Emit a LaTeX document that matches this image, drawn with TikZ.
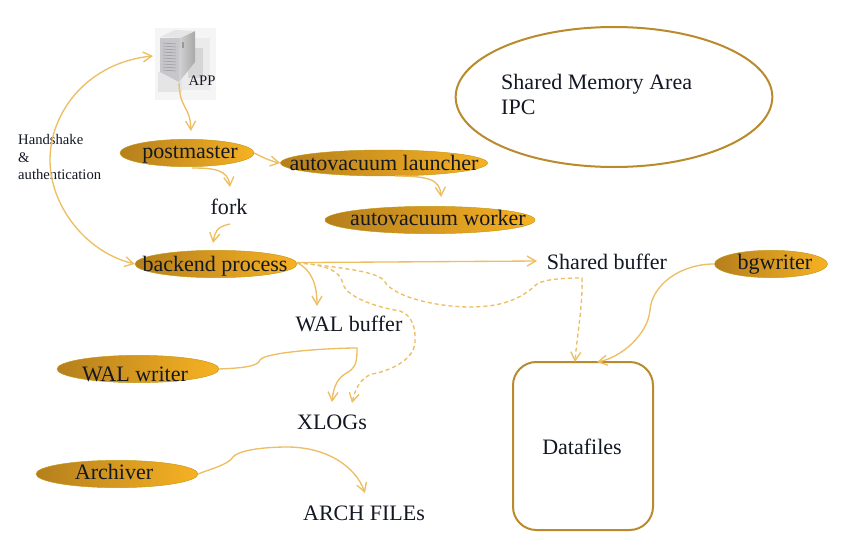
\documentclass[tikz,border=0pt]{standalone}
\usepackage{fontspec}
\setmainfont{Liberation Serif}
\usetikzlibrary{shapes.geometric,arrows.meta}
\definecolor{linkgold}{HTML}{EDBE62}
\definecolor{rimgold}{HTML}{B98B2C}
\definecolor{ovaldark}{HTML}{B57F1C}
\definecolor{ovallight}{HTML}{F7B223}
\definecolor{inktext}{HTML}{141824}
\tikzset{
    procoval/.style n args={3}{ellipse, minimum width=#1, minimum height=8.2mm, inner sep=0pt, draw=ovaldark!80!yellow, thin, left color=ovaldark, right color=ovallight, label={[text=inktext, bigfont, shift={#2}]center:#3}},
    bigfont/.style={font=\fontsize{18.8}{21.3}\selectfont},
    plainlabel/.style={inner sep=0pt, text=inktext, bigfont},
    smalllabel/.style={inner sep=0pt, text=inktext, font=\fontsize{12.5}{15}\selectfont},
    link/.style={draw=linkgold, line width=0.4mm, -{Straight Barb[length=2.6mm,width=3mm]}},
    dashlink/.style={link, dashed, dash pattern=on 1.2mm off 0.9mm}
}
\begin{document}
\begin{tikzpicture}[x=0.3mm, y=-0.3mm]
\useasboundingbox (0,0) rectangle (868,542);
\fill[white] (0,0) rectangle (868,542);

\fill[black!4] (155,28) rectangle (216,100);
\fill[black!8] (176,38) rectangle (210,90);
\fill[black!16] (188,48) rectangle (203,78);
\fill[black!10] (158,72) rectangle (182,92);
\fill[blue!8!black!22] (160,38) -- (180,38) -- (179,82) -- (160,72) -- cycle;
\shade[left color=black!18, right color=black!34] (180,38) -- (195,31) -- (195,62) -- (179,82) -- cycle;
\fill[black!10] (160,37) -- (175,30) -- (195,31) -- (180,38) -- cycle;
\foreach \y in {43,46,...,70}
    \draw[black!42, thin] (163,\y) -- (176,\y+1);
\draw[black!40, line width=0.5mm] (183,42) -- (183,48);
\coordinate (appin) at (153,56);
\coordinate (appout) at (179,83);

\node[smalllabel] (app) at (202,81) {APP};
\node[smalllabel, align=left, anchor=west, text width=2.6cm] (handshake) at (18,157) {Handshake\\\&\\authentication};

\node[procoval={40.2mm}{(3,2)}{postmaster}] (postmaster) at (187,153) {};
\node[procoval={48.6mm}{(-1,2)}{backend process}] (backend) at (216,264) {};
\node[procoval={62.1mm}{(0,0)}{autovacuum launcher}, minimum height=7.8mm] (launcher) at (384,163) {};
\node[procoval={63mm}{(8,-2)}{autovacuum worker}] (worker) at (430,220) {};
\node[procoval={48.6mm}{(-3,5)}{WAL writer}] (walwriter) at (138,369) {};
\node[procoval={48.6mm}{(-3,-2)}{Archiver}] (archiver) at (117,474) {};
\node[procoval={33.9mm}{(4,0)}{bgwriter}] (bgwriter) at (771,264) {};

\node[plainlabel] (fork) at (229,207) {fork};
\node[plainlabel] (walbuffer) at (349,324) {WAL buffer};
\node[plainlabel] (xlogs) at (332,422) {XLOGs};
\node[plainlabel] (archfiles) at (364,513) {ARCH FILEs};
\node[plainlabel] (sharedbuffer) at (607,262) {Shared buffer};

\node[ellipse, draw=rimgold, line width=0.6mm, minimum width=95mm, minimum height=42mm, inner sep=0pt] (shmem) at (614,97) {};
\node[plainlabel, anchor=west, align=left] (shmemtext) at (501,94) {Shared Memory Area\\IPC};
\node[draw=rimgold, line width=0.6mm, rounded corners=7mm, minimum width=42mm, minimum height=50.4mm, inner sep=0pt] (datafiles) at (583,446) {};
\node[plainlabel] (datatext) at (582,447) {Datafiles};

\coordinate (backout) at (backend.1.4);
\coordinate (postin) at (191,131);
\coordinate (postout) at (192,168);
\coordinate (forkin) at (230,187);
\coordinate (forkout) at (230,224);
\coordinate (backin) at (213,243);
\coordinate (launchout) at (395,176);
\coordinate (workerin) at (441,197);
\coordinate (sharedin) at (537,261);
\coordinate (walin) at (317,306);
\coordinate (sharedout) at (582,278);
\coordinate (xlogina) at (332,402);
\coordinate (xloginb) at (352,403);
\coordinate (archin) at (365,493);
\coordinate (datain) at (575,362);
\coordinate (datainb) at (597,362);

\draw[link, {Straight Barb[length=2.6mm,width=3mm]}-{Straight Barb[length=2.6mm,width=3mm]}] (appin) .. controls (90,62) and (50,110) .. (50,160) .. controls (50,205) and (85,252) .. (backend.west);
\draw[link] (appout) .. controls (180,110) and (190,105) .. (postin);
\draw[link] (postmaster.east) .. controls (262,157) and (270,161) .. (launcher.west);
\draw[link] (postout) .. controls (215,168) and (228,170) .. (forkin);
\draw[link] (forkout) .. controls (216,227) and (215,232) .. (backin);
\draw[link] (launchout) .. controls (430,176) and (440,180) .. (workerin);
\draw[link] (backout) -- (sharedin);
\draw[link] (backout) .. controls (312,270) and (317,285) .. (walin);
\draw[dashlink] (backout) .. controls (345,268) and (380,272) .. (385,282) .. controls (395,298) and (440,307) .. (470,307) .. controls (500,307) and (520,300) .. (537,284) .. controls (545,279) and (565,278) .. (sharedout) .. controls (583,305) and (577,335) .. (datain);
\draw[dashlink] (backout) .. controls (325,265) and (340,270) .. (343,284) .. controls (347,298) and (380,308) .. (400,311) .. controls (412,315) and (416,328) .. (415,342) .. controls (414,362) and (385,372) .. (372,374) .. controls (360,378) and (355,390) .. (xloginb);
\draw[link] (walwriter.east) .. controls (240,368) and (258,367) .. (260,360) .. controls (265,352) and (330,348) .. (357,348) .. controls (357,360) and (357,368) .. (345,374) .. controls (335,380) and (333,392) .. (xlogina);
\draw[link] (archiver.east) .. controls (210,469) and (228,465) .. (233,457) .. controls (240,449) and (270,447) .. (287,447) .. controls (325,447) and (355,465) .. (archin);
\draw[link] (bgwriter.west) .. controls (680,264) and (652,285) .. (650,310) .. controls (648,335) and (620,358) .. (datainb);
\end{tikzpicture}
\end{document}
